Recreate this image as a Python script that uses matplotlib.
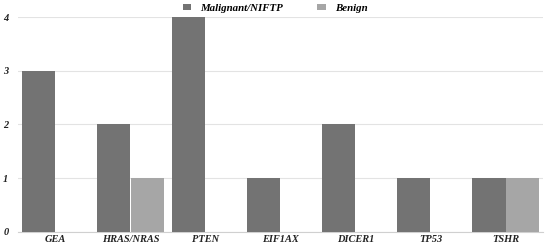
import matplotlib.pyplot as plt
import numpy as np

plt.rcParams['font.family'] = ['Liberation Serif', 'DejaVu Serif']

genes = ['GEA', 'HRAS/NRAS', 'PTEN', 'EIF1AX', 'DICER1', 'TP53', 'TSHR']
malignant = [3, 2, 4, 1, 2, 1, 1]
benign = [0, 1, 0, 0, 0, 0, 1]

fig = plt.figure(figsize=(5.5, 2.47), dpi=100)
ax = fig.add_axes([0.033, 0.061, 0.955, 0.870])

x = np.arange(len(genes))
w = 0.44
ax.bar(x - w / 2 - 0.005, malignant, width=w, color='#737373', label='Malignant/NIFTP', zorder=3)
ax.bar(x + w / 2 + 0.005, benign, width=w, color='#a6a6a6', label='Benign', zorder=3)

ax.set_xlim(-0.5, len(genes) - 0.5)
ax.set_ylim(0, 4)
ax.set_yticks([0, 1, 2, 3, 4])
ax.set_xticks(x)
ax.set_xticklabels(genes)
for lab in ax.get_xticklabels() + ax.get_yticklabels():
    lab.set_fontstyle('italic')
    lab.set_fontweight('bold')
    lab.set_fontsize(7.5)
    lab.set_color('#222222')

ax.grid(axis='y', color='#e3e3e3', linewidth=0.8, zorder=0)
for s in ['top', 'right', 'left']:
    ax.spines[s].set_visible(False)
ax.spines['bottom'].set_color('#d0d0d0')
ax.tick_params(axis='x', length=0, pad=2.5)
ax.tick_params(axis='y', length=0, pad=7)

leg = fig.legend(loc='upper center', bbox_to_anchor=(0.5, 1.025), ncol=2, frameon=False,
                 prop={'style': 'italic', 'weight': 'bold', 'size': 7.8},
                 handlelength=0.8, handleheight=0.6, columnspacing=3.2, handletextpad=0.8)

plt.savefig('out.png', dpi=100)
